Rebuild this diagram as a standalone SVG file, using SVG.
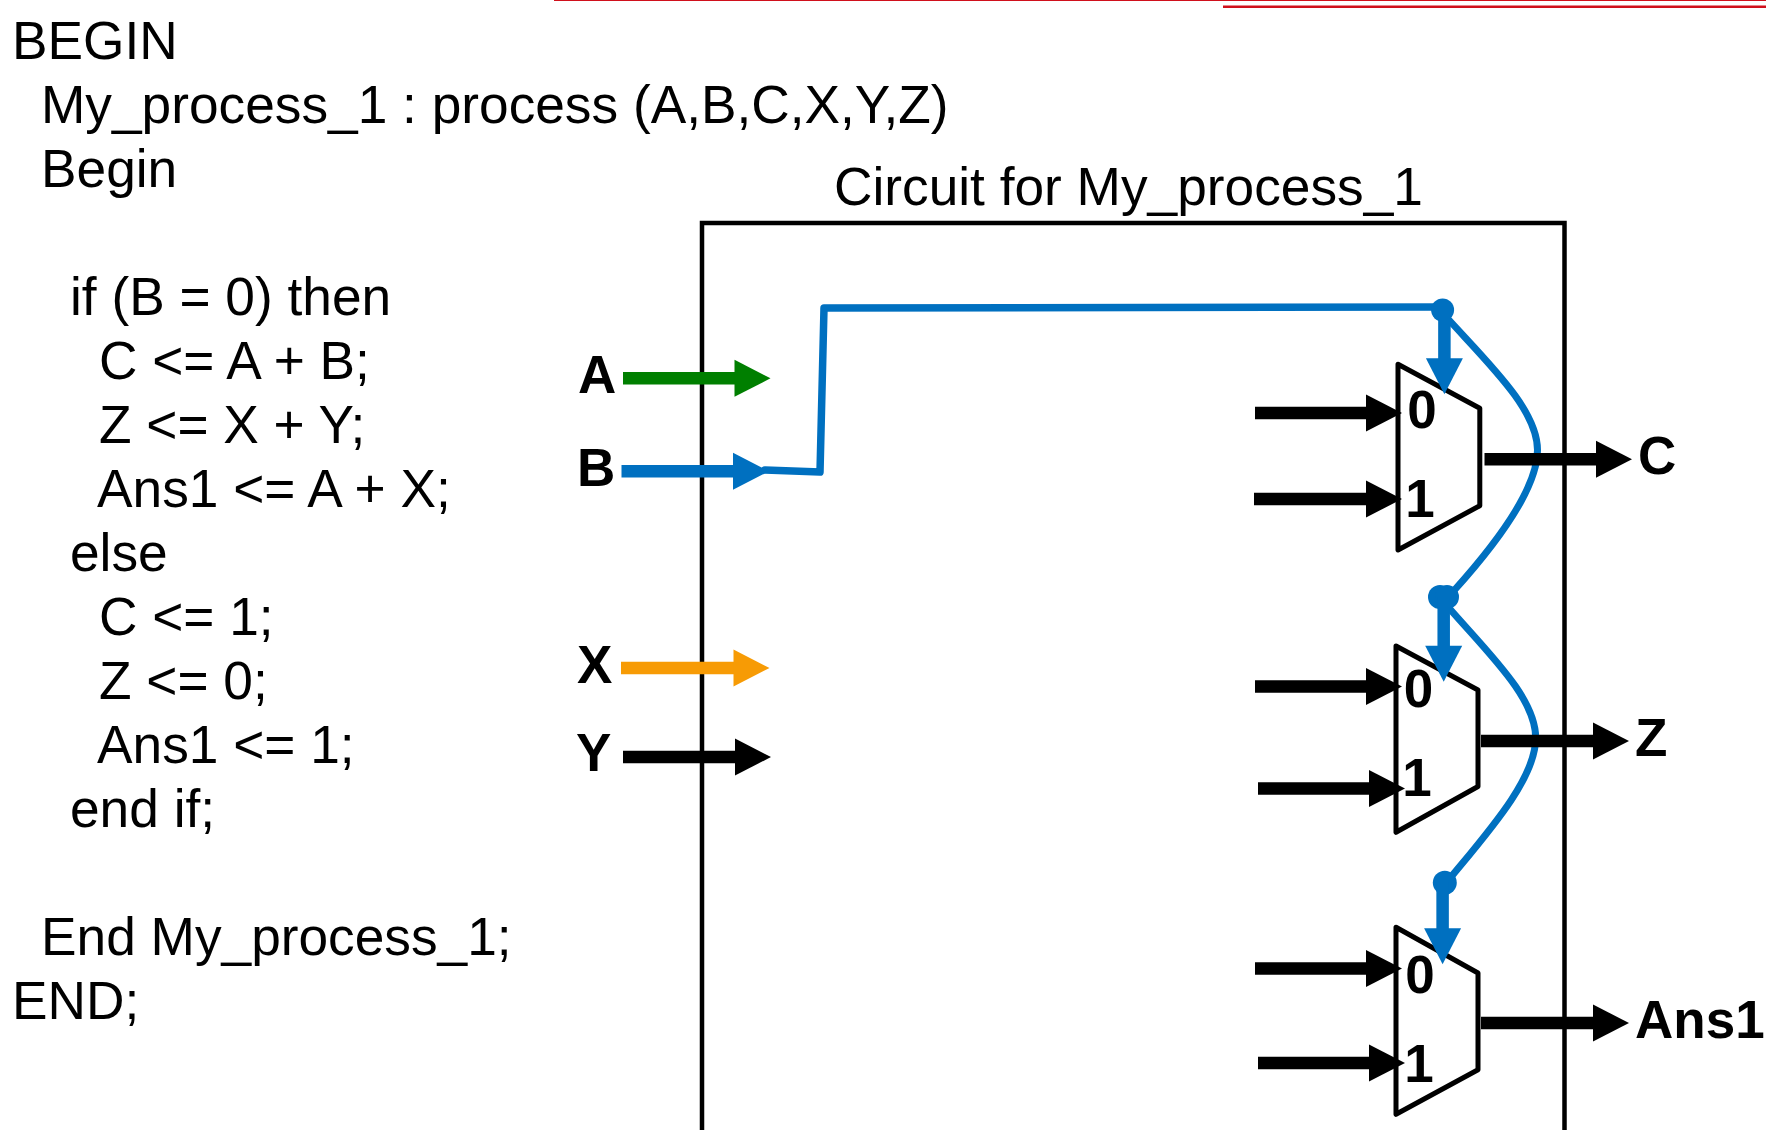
<svg xmlns="http://www.w3.org/2000/svg" width="1766" height="1130" viewBox="0 0 1766 1130">
<style>
text{font-family:"Liberation Sans",Arial,sans-serif;fill:#000}
.code{font-size:53.250px}
.b{font-size:53px;font-weight:bold}
.m{text-anchor:middle}
.mux{fill:none;stroke:#000;stroke-width:5;stroke-linejoin:round}
.frame{fill:none;stroke:#000;stroke-width:4.500}
.k{stroke:#000;stroke-width:12.500;fill:none}
.bl{stroke:#0070c0;stroke-width:12.500;fill:none}
.g{stroke:#007f00;stroke-width:12.500;fill:none}
.o{stroke:#f79b05;stroke-width:12.500;fill:none}
.wire{stroke:#0070c0;stroke-width:7;fill:none;stroke-linejoin:round;stroke-linecap:round}
.top{stroke-width:7.500}
.dot{fill:#0070c0}
.red{stroke:#d0101c;fill:none}
marker{overflow:visible}
</style>
<defs>
<marker id="hk" markerUnits="userSpaceOnUse" markerWidth="38" markerHeight="38" refX="0" refY="19" orient="auto"><path d="M-1 .5L35 19L-1 37.500Z" fill="#000"/></marker>
<marker id="hb" markerUnits="userSpaceOnUse" markerWidth="38" markerHeight="38" refX="0" refY="19" orient="auto"><path d="M-1 .5L35 19L-1 37.500Z" fill="#0070c0"/></marker>
<marker id="hg" markerUnits="userSpaceOnUse" markerWidth="38" markerHeight="38" refX="0" refY="19" orient="auto"><path d="M-1 .5L35 19L-1 37.500Z" fill="#007f00"/></marker>
<marker id="ho" markerUnits="userSpaceOnUse" markerWidth="38" markerHeight="38" refX="0" refY="19" orient="auto"><path d="M-1 .5L35 19L-1 37.500Z" fill="#f79b05"/></marker>
</defs>
<g id="header-rules">
<path class="red" stroke-width="2" d="M554 0H1766"/>
<path class="red" stroke-width="2.500" d="M1223 6.700H1766"/>
</g>
<g id="code">
<text class="code" x="12" y="59">BEGIN</text>
<text class="code" x="41" y="123">My_process_1 : process (A,B,C,X,Y,Z)</text>
<text class="code" x="41" y="187">Begin</text>
<text class="code" x="70" y="315">if (B = 0) then</text>
<text class="code" x="99" y="379">C &lt;= A + B;</text>
<text class="code" x="99" y="443">Z &lt;= X + Y;</text>
<text class="code" x="97" y="507">Ans1 &lt;= A + X;</text>
<text class="code" x="70" y="571">else</text>
<text class="code" x="99" y="635">C &lt;= 1;</text>
<text class="code" x="99" y="699">Z &lt;= 0;</text>
<text class="code" x="97" y="763">Ans1 &lt;= 1;</text>
<text class="code" x="70" y="827">end if;</text>
<text class="code" x="41" y="955">End My_process_1;</text>
<text class="code" x="12" y="1019">END;</text>
</g>
<g id="circuit-frame">
<path class="frame" d="M702 1130V223H1564.500V1130"/>
<text class="code" x="834" y="205">Circuit for My_process_1</text>
</g>
<g id="input-A"><text class="b" x="578" y="393">A</text></g>
<g id="input-B"><text class="b" x="577" y="486">B</text></g>
<g id="input-X"><text class="b" x="577" y="683">X</text></g>
<g id="input-Y"><text class="b" x="576" y="771">Y</text></g>
<g id="mux-C">
<path class="mux" d="M1398 364.300L1479.800 408.300V505.700L1398 550Z"/>
<text class="b m" x="1422" y="428">0</text>
<text class="b m" x="1420" y="517">1</text>
</g>
<g id="mux-Z">
<path class="mux" d="M1396 646L1478 690V786.500L1396 832.300Z"/>
<text class="b m" x="1418.500" y="707">0</text>
<text class="b m" x="1417" y="796">1</text>
</g>
<g id="mux-Ans1">
<path class="mux" d="M1396 927.300L1478 973V1069.700L1396 1114.300Z"/>
<text class="b m" x="1420" y="993">0</text>
<text class="b m" x="1419" y="1082">1</text>
</g>
<g id="output-C"><text class="b" x="1638" y="474">C</text></g>
<g id="output-Z"><text class="b" x="1635" y="756">Z</text></g>
<g id="output-Ans1"><text class="b" x="1635" y="1038">Ans1</text></g>
<g id="connectors">
<line class="g" x1="623" y1="378.300" x2="735.500" y2="378.300" marker-end="url(#hg)"/>
<line class="bl" x1="621.500" y1="471.300" x2="734" y2="471.300" marker-end="url(#hb)"/>
<line class="o" x1="621" y1="668" x2="734.500" y2="668" marker-end="url(#ho)"/>
<line class="k" x1="623" y1="757" x2="736" y2="757" marker-end="url(#hk)"/>
<path class="wire top" d="M765 470L820 472L824 308L1443 307"/>
<path class="wire" d="M1449 320C1490 365 1537.500 410 1537.500 450C1537.500 490 1495 545 1454.500 590"/>
<path class="wire" d="M1449 608C1490 655 1535.700 698 1535.700 738C1535.700 778 1490 830 1452.700 875"/>
<circle class="dot" cx="1442.600" cy="310" r="11.500"/>
<circle class="dot" cx="1440" cy="597" r="12"/>
<circle class="dot" cx="1447" cy="597" r="12"/>
<circle class="dot" cx="1444.800" cy="882.700" r="12"/>
<line class="bl" x1="1444.400" y1="310" x2="1444.400" y2="359.300" marker-end="url(#hb)"/>
<line class="bl" x1="1443.700" y1="597" x2="1443.700" y2="646.700" marker-end="url(#hb)"/>
<line class="bl" x1="1442.600" y1="882" x2="1442.600" y2="929.300" marker-end="url(#hb)"/>
<line class="k" x1="1255" y1="413" x2="1367" y2="413" marker-end="url(#hk)"/>
<line class="k" x1="1254" y1="499" x2="1367" y2="499" marker-end="url(#hk)"/>
<line class="k" x1="1255" y1="686.500" x2="1367" y2="686.500" marker-end="url(#hk)"/>
<line class="k" x1="1258" y1="788.500" x2="1370" y2="788.500" marker-end="url(#hk)"/>
<line class="k" x1="1255" y1="968.500" x2="1367" y2="968.500" marker-end="url(#hk)"/>
<line class="k" x1="1258" y1="1063" x2="1370" y2="1063" marker-end="url(#hk)"/>
<line class="k" x1="1484.500" y1="459.300" x2="1597" y2="459.300" marker-end="url(#hk)"/>
<line class="k" x1="1481" y1="741" x2="1594" y2="741" marker-end="url(#hk)"/>
<line class="k" x1="1481" y1="1023" x2="1594" y2="1023" marker-end="url(#hk)"/>
</g>
</svg>
